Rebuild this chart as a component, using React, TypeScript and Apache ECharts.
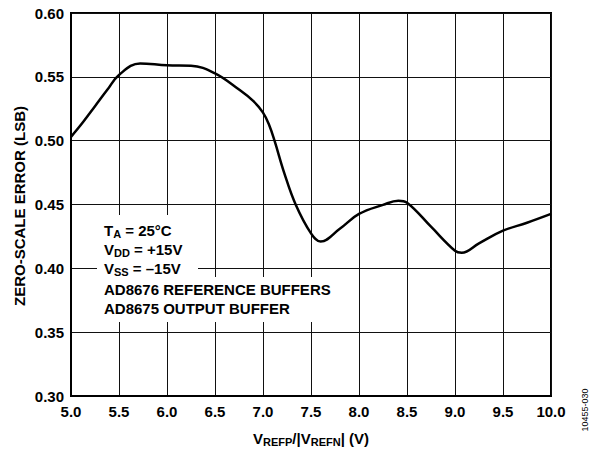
import React, { useEffect, useRef } from "react";
import * as echarts from "echarts";

const xValues = [5.0, 5.12, 5.25, 5.38, 5.5, 5.72, 6.0, 6.25, 6.5, 6.75, 6.9, 7.0, 7.06, 7.12, 7.22, 7.34, 7.5, 7.6, 7.8, 8.0, 8.25, 8.41, 8.5, 8.75, 9.0, 9.07, 9.25, 9.5, 9.75, 10.0];
const yValues = [0.503, 0.514, 0.527, 0.540, 0.5515, 0.5605, 0.559, 0.5587, 0.5527, 0.540, 0.531, 0.522, 0.513, 0.500, 0.475, 0.450, 0.4274, 0.421, 0.431, 0.4426, 0.4497, 0.453, 0.4514, 0.4326, 0.4138, 0.4123, 0.4196, 0.4295, 0.4357, 0.4426];

const xTicks = { min: 5.0, max: 10.0, interval: 0.5 };
const yTicks = { min: 0.3, max: 0.6, interval: 0.05 };

const FONT = "Liberation Sans, Arial, Helvetica, sans-serif";

export default function App() {
  const ref = useRef<HTMLDivElement>(null);
  useEffect(() => {
    document.body.style.margin = "0";
    if (!ref.current) return;
    const chart = echarts.init(ref.current, null, { renderer: "svg" });
    const bold = { fontFamily: FONT, fontWeight: "bold" as const, color: "#000" };
    const rich = {
      b: { ...bold, fontSize: 15, lineHeight: 18 },
      s: { ...bold, fontSize: 11, lineHeight: 11, verticalAlign: "bottom" as const },
    };
    chart.setOption({
      animation: false,
      backgroundColor: "#fff",
      grid: {
        left: 71,
        top: 13,
        right: 41,
        bottom: 54,
        show: true,
        borderColor: "#000",
        borderWidth: 2,
        backgroundColor: "transparent",
      },
      xAxis: {
        type: "value",
        min: xTicks.min,
        max: xTicks.max,
        interval: xTicks.interval,
        axisLine: { show: true, lineStyle: { color: "#000", width: 2 } },
        axisTick: { show: false },
        axisLabel: {
          ...bold,
          fontSize: 15,
          margin: 8,
          formatter: (v: number) => v.toFixed(1),
        },
        splitLine: { show: true, lineStyle: { color: "#111", width: 1 } },
      },
      yAxis: {
        type: "value",
        min: yTicks.min,
        max: yTicks.max,
        interval: yTicks.interval,
        axisLine: { show: true, lineStyle: { color: "#000", width: 2 } },
        axisTick: { show: false },
        axisLabel: {
          ...bold,
          fontSize: 15,
          margin: 7,
          formatter: (v: number) => v.toFixed(2),
        },
        splitLine: { show: true, lineStyle: { color: "#111", width: 1 } },
      },
      series: [
        {
          type: "line",
          data: xValues.map((x, i) => [x, yValues[i]]),
          smooth: 0.4,
          symbol: "none",
          lineStyle: { color: "#000", width: 2.5 },
          z: 5,
        },
      ],
      graphic: [
        { type: "rect", z: 3, shape: { x: 97, y: 215, width: 101, height: 62 }, style: { fill: "#fff" } },
        { type: "rect", z: 3, shape: { x: 97, y: 277, width: 248, height: 45 }, style: { fill: "#fff" } },
        {
          type: "text", z: 10, x: 104, y: 230,
          style: { text: "{b|T}{s|A}{b| = 25°C}", rich, textVerticalAlign: "middle" },
        },
        {
          type: "text", z: 10, x: 104, y: 249,
          style: { text: "{b|V}{s|DD}{b| = +15V}", rich, textVerticalAlign: "middle" },
        },
        {
          type: "text", z: 10, x: 104, y: 268,
          style: { text: "{b|V}{s|SS}{b| = –15V}", rich, textVerticalAlign: "middle" },
        },
        {
          type: "text", z: 10, x: 104, y: 289,
          style: { text: "{b|AD8676 REFERENCE BUFFERS}", rich, textVerticalAlign: "middle" },
        },
        {
          type: "text", z: 10, x: 104, y: 308,
          style: { text: "{b|AD8675 OUTPUT BUFFER}", rich, textVerticalAlign: "middle" },
        },
        {
          type: "text", z: 10, x: 311, y: 438,
          style: {
            text: "{b|V}{s|REFP}{b|/|V}{s|REFN}{b|| (V)}",
            rich,
            textAlign: "center",
            textVerticalAlign: "middle",
          },
        },
        {
          type: "text", z: 10, x: 19, y: 206, rotation: Math.PI / 2,
          style: {
            text: "ZERO-SCALE ERROR (LSB)",
            ...bold,
            fontSize: 15,
            textAlign: "center",
            textVerticalAlign: "middle",
            fill: "#000",
          },
        },
        {
          type: "text", z: 10, x: 585, y: 410, rotation: Math.PI / 2,
          style: {
            text: "10455-030",
            fontFamily: FONT,
            fontSize: 9,
            textAlign: "center",
            textVerticalAlign: "middle",
            fill: "#000",
          },
        },
      ],
    });
    return () => chart.dispose();
  }, []);
  return <div ref={ref} style={{ width: 592, height: 450 }} />;
}
